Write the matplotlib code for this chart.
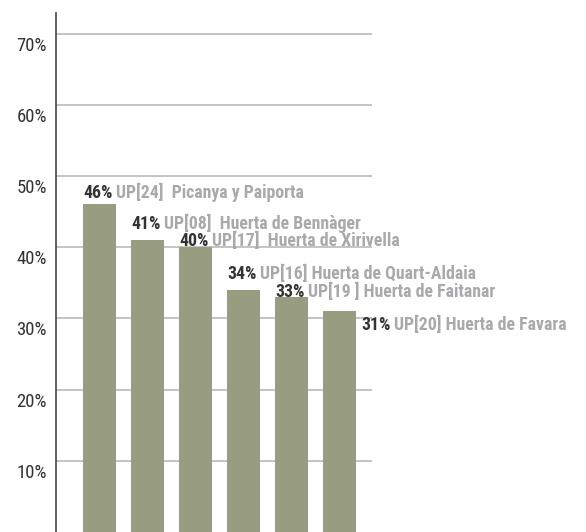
import matplotlib
matplotlib.use('Agg')
import matplotlib.pyplot as plt

# share of area per unit (%)
units = ['UP[24]  Picanya y Paiporta',
         'UP[08]  Huerta de Bennàger',
         'UP[17]  Huerta de Xirivella',
         'UP[16] Huerta de Quart-Aldaia',
         'UP[19 ] Huerta de Faitanar',
         'UP[20] Huerta de Favara']
shares = [46, 41, 40, 34, 33, 31]
yticks = [10, 20, 30, 40, 50, 60, 70]

BAR = '#989c80'
DARK = '#333333'
GREY = '#a9a9ab'
FONT = 'Roboto Condensed'

# hand placed label offsets (pixels from the bar's top-left corner to the baseline)
label_off = [(0, 6), (0, 11), (0, 1), (0, 11), (0, 0), (38, -19)]

fig = plt.figure(figsize=(5.86, 5.32), dpi=100)
ax = fig.add_axes([56 / 586, 0, 316 / 586, 520 / 533])

x = list(range(len(shares)))
ax.bar(x, shares, width=0.69, color=BAR, zorder=2)

ax.set_xlim(-0.906, 5.677)
ax.set_ylim(0, 72.9)

for v in yticks:
    ax.axhline(v, color='#c4c4c4', lw=1.4, zorder=1)
    ax.annotate(f'{v}%', xy=(0, v), xycoords=('axes fraction', 'data'),
                xytext=(-9, -3), textcoords='offset pixels',
                ha='right', va='top', fontsize=13.5, family=FONT,
                color=DARK, annotation_clip=False)

ax.set_xticks([])
ax.set_yticks([])
for s in ['top', 'right', 'bottom']:
    ax.spines[s].set_visible(False)
ax.spines['left'].set_color('#444444')
ax.spines['left'].set_linewidth(1.2)

for i, (name, val) in enumerate(zip(units, shares)):
    dx, dy = label_off[i]
    pct = ax.annotate(f'{val}%', xy=(i - 0.345, val), xycoords='data',
                      xytext=(dx, dy), textcoords='offset pixels',
                      ha='left', va='baseline', fontsize=12.8, family=FONT,
                      fontweight='bold', color=DARK, zorder=3,
                      annotation_clip=False)
    ax.annotate(name, xy=(1, 0), xycoords=pct, xytext=(4, 0),
                textcoords='offset pixels', ha='left', va='bottom',
                fontsize=12.8, family=FONT, fontweight='bold',
                color=GREY, zorder=3, annotation_clip=False)

fig.savefig('out.png', dpi=100)
